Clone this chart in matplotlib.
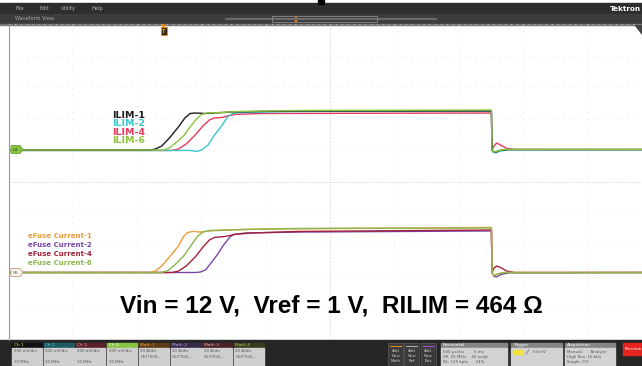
import numpy as np
import matplotlib.pyplot as plt
from matplotlib.patches import Rectangle, Polygon

# --- captured waveforms (time in ms, trigger at 0) ---
# ILIM pin voltage, mV (Ch4, 200 mV/div)
ilim1_t = [-1.20, -0.10, -0.06, -0.01, 0.05, 0.12, 0.17, 0.21, 0.25, 0.33, 0.40, 0.52, 0.75, 1.06, 2.55, 2.554, 2.565, 2.585, 2.61, 2.69, 3.72]
ilim1_mv = [0, 0, 6, 25, 76, 146, 203, 231, 234, 231, 234, 240, 244, 247, 247, 0, -9, -13, -3, 3, 3]

ilim2_t = [-1.20, 0.21, 0.26, 0.30, 0.35, 0.40, 0.46, 0.50, 0.54, 0.60, 1.06, 2.55, 2.554, 2.56, 2.585, 2.61, 2.67, 3.72]
ilim2_mv = [-3, -3, -9, 0, 32, 95, 158, 209, 231, 237, 244, 247, 0, -13, -19, -9, 0, 1]

ilim4_t = [-1.20, 0.07, 0.12, 0.18, 0.25, 0.31, 0.36, 0.40, 0.46, 0.50, 0.56, 0.75, 2.55, 2.554, 2.57, 2.59, 2.62, 2.67, 2.73, 3.72]
ilim4_mv = [-3, -3, 6, 38, 95, 152, 190, 203, 206, 215, 225, 231, 234, 0, 25, 44, 32, 9, 3, 3]

ilim6_t = [-1.20, 0.0, 0.04, 0.09, 0.16, 0.21, 0.26, 0.30, 0.34, 0.44, 0.60, 1.06, 2.55, 2.554, 2.57, 2.60, 2.65, 3.72]
ilim6_mv = [0, 0, 9, 38, 89, 146, 196, 225, 234, 237, 244, 250, 253, 0, -13, -6, 3, 3]

# eFuse output current, A (Math, 20 A/div)
cur1_t = [-1.20, -0.10, -0.06, -0.01, 0.05, 0.12, 0.16, 0.19, 0.23, 0.29, 0.36, 0.52, 0.75, 2.55, 2.554, 2.57, 2.60, 2.65, 3.72]
cur1_a = [0, 0, 0.9, 4.1, 9.8, 16.8, 22.8, 25.3, 26.0, 25.6, 26.3, 26.9, 27.5, 28.5, 0, -2.2, -0.9, 0, 0]

cur2_t = [-1.20, 0.25, 0.29, 0.33, 0.36, 0.42, 0.47, 0.52, 0.55, 0.64, 1.06, 2.55, 2.554, 2.57, 2.59, 2.62, 2.69, 3.72]
cur2_a = [0, 0, 0.3, 1.6, 4.7, 11.1, 17.4, 22.5, 24.1, 25.0, 25.6, 26.3, 0, -2.5, -2.8, -1.3, -0.2, 0]

cur4_t = [-1.20, 0.07, 0.12, 0.18, 0.25, 0.31, 0.36, 0.40, 0.48, 0.56, 0.68, 1.06, 2.55, 2.554, 2.57, 2.59, 2.62, 2.67, 2.73, 3.72]
cur4_a = [0, 0, 0.9, 4.1, 9.8, 16.1, 20.6, 22.2, 22.8, 24.1, 25.0, 26.0, 26.9, 0, 2.8, 4.1, 3.2, 0.9, 0, 0]

cur6_t = [-1.20, -0.01, 0.04, 0.09, 0.16, 0.22, 0.27, 0.31, 0.36, 0.60, 1.06, 2.55, 2.554, 2.57, 2.60, 2.65, 3.72]
cur6_a = [0, 0, 1.3, 4.7, 10.4, 17.4, 23.1, 25.6, 26.6, 27.2, 27.9, 28.2, 0, -1.9, -0.8, 0, 0]

ilim_labels = ['ILIM-1', 'ILIM-2', 'ILIM-4', 'ILIM-6']
cur_labels = ['eFuse Current-1', 'eFuse Current-2', 'eFuse Current-4', 'eFuse Current-6']
title = 'Vin = 12 V,  Vref = 1 V,  RILIM = 464 Ω'

ilim_colors = ['#1c1c1c', '#3cc6d0', '#e53a5c', '#8cc43e']
cur_colors = ['#ec9a3a', '#7b45a8', '#a3223a', '#8cb64a']

# scope settings
MV_PER_DIV = 200.0
A_PER_DIV = 20.0
MS_PER_DIV = 0.5
ILIM_OFS = 1.013     # divisions above screen centre
CUR_OFS = -2.864
PX_PER_MS = 128.8
TRIG_PX = 163.0

W, H = 642, 366
fig = plt.figure(figsize=(6.42, 3.66), dpi=100)
fig.patch.set_facecolor('white')

# --- UI chrome, drawn in pixel coordinates ---
ui = fig.add_axes([0, 0, 1, 1], zorder=0)
ui.set_xlim(0, W)
ui.set_ylim(H, 0)
ui.axis('off')

ui.add_patch(Rectangle((0, 3), W, 11, color='#2d2d2d'))
ui.add_patch(Rectangle((0, 14), W, 10, color='#3c3c3c'))
ui.add_patch(Rectangle((0, 24), W, 0.8, color='#777777'))
for name, x in zip(['File', 'Edit', 'Utility', 'Help'], [16, 39, 61, 91]):
    ui.text(x, 8.8, name, color='#bbbbbb', fontsize=3.6, va='center')
ui.text(641, 8.8, 'Tektron', color='white', fontsize=5.2, fontweight='bold',
        va='center', ha='right')
ui.add_patch(Rectangle((318, 0), 6, 4, color='black'))
ui.text(15, 19, 'Waveform View', color='#aaaaaa', fontsize=3.6, va='center')
ui.plot([225, 437], [19, 19], color='#6a6a6a', lw=1.6, solid_capstyle='butt')
ui.plot([272, 272, 377, 377], [16, 22, 22, 16], color='#888888', lw=0.6)
ui.plot([272, 377], [16, 16], color='#888888', lw=0.6)
ui.add_patch(Rectangle((293.5, 15.5), 3.5, 6.5, facecolor='#e08a1e', edgecolor='#5a3000', lw=0.4))

# bottom control bar
ui.add_patch(Rectangle((0, 340), W, 26, color='#262626'))
chans = [('Ch 1', '#111111', '#e8d24a', ['200 mV/div', '', '10 MHz']),
         ('Ch 2', '#1f5a63', '#59d2dc', ['200 mV/div', '', '10 MHz']),
         ('Ch 3', '#5a2329', '#f0a0a8', ['200 mV/div', '', '10 MHz']),
         ('Ch 4', '#86c440', '#ffffff', ['200 mV/div', '', '10 MHz']),
         ('Math 1', '#5c3a14', '#f0a040', ['20 A/div', 'Ch1*550...']),
         ('Math 2', '#352a4a', '#c8a8f0', ['20 A/div', 'Ch2*550...']),
         ('Math 3', '#4a2226', '#f0b0b0', ['20 A/div', 'Ch3*550...']),
         ('Math 4', '#3a3a1e', '#a8c860', ['20 A/div', 'Ch4*550...'])]
for i, (name, hc, tc, body) in enumerate(chans):
    x0 = 12 + i * 31.7
    ui.add_patch(Rectangle((x0, 342.5), 30, 5.5, color=hc))
    ui.add_patch(Rectangle((x0, 348), 30, 18, color='#cfcfcf'))
    ui.text(x0 + 1.5, 345.3, name, color=tc, fontsize=3.2, va='center')
    for j, line in enumerate(body):
        ui.text(x0 + 1.5, 351.5 + j * 5.2, line, color='#555555', fontsize=2.9, va='center')

for k, (stripe, words) in enumerate(zip(['#d98a2a', '#aaaaaa', '#9a55c8'], ['Math', 'Ref', 'Bus'])):
    x0 = 388 + k * 16.3
    ui.add_patch(Rectangle((x0, 342.5), 15, 23.5, facecolor='#3a3a3a', edgecolor='#5a5a5a', lw=0.5))
    ui.plot([x0 + 2, x0 + 13], [345.5, 345.5], color=stripe, lw=0.8)
    for j, wd in enumerate(['Add', 'New', words]):
        ui.text(x0 + 7.5, 350.5 + j * 5.3, wd, color='#cccccc', fontsize=2.9, ha='center', va='center')

panels = [('Horizontal', 441, 66, ['500 µs/div        5 ms', 'SR: 25 MS/s    40 ns/pt', 'RL: 125 kpts      24%']),
          ('Trigger', 511, 51, ['', '', '']),
          ('Acquisition', 565, 50, ['Manual,      Analyze', 'High Res: 16 bits', 'Single: 0/1'])]
for name, x0, w, body in panels:
    ui.add_patch(Rectangle((x0, 342.5), w, 5.5, color='#858585'))
    ui.add_patch(Rectangle((x0, 348), w, 18, color='#d2d2d2'))
    ui.text(x0 + 2, 345.3, name, color='white', fontsize=3.2, va='center')
    for j, line in enumerate(body):
        ui.text(x0 + 2, 351.5 + j * 5.2, line, color='#555555', fontsize=2.9, va='center')
ui.add_patch(Rectangle((513, 349.5), 9, 4.5, color='#f2e436'))
ui.plot([526, 529], [354, 350], color='#777777', lw=0.6)
ui.text(533, 351.8, '64 mV', color='#555555', fontsize=2.9, va='center')
ui.add_patch(Rectangle((623, 342.5), 19, 12.5, color='#e52420'))
ui.text(625, 348.8, 'Preview', color='white', fontsize=3.2, va='center')

# --- waveform area ---
t_left = (9 - TRIG_PX) / PX_PER_MS
t_right = (W - TRIG_PX) / PX_PER_MS
t_centre = (330 - TRIG_PX) / PX_PER_MS

ax = fig.add_axes([9 / W, (H - 340) / H, (W - 9) / W, 316 / H], zorder=1)
ax.set_facecolor('none')
ax.set_xlim(t_left, t_right)
ax.set_ylim(-5, 5)
for s in ['top', 'right', 'bottom']:
    ax.spines[s].set_visible(False)
ax.spines['left'].set_color('#9a9a9a')
ax.spines['left'].set_linewidth(0.8)
ax.set_xticks([])
ax.set_yticks([])

# graticule
for k in range(-5, 6):
    tx = t_centre + k * MS_PER_DIV
    centre = (k == 0)
    ax.axvline(tx, color='#c4c4c4' if centre else '#dedede', lw=0.6,
               ls=(0, (1, 2)) if centre else (0, (1, 6)), zorder=0)
    ax.axhline(k, color='#c4c4c4' if k == 0 else '#dedede', lw=0.6,
               ls=(0, (1, 2)) if k == 0 else (0, (1, 6)), zorder=0)

ilim_series = [(ilim1_t, ilim1_mv), (ilim2_t, ilim2_mv), (ilim4_t, ilim4_mv), (ilim6_t, ilim6_mv)]
cur_series = [(cur1_t, cur1_a), (cur2_t, cur2_a), (cur4_t, cur4_a), (cur6_t, cur6_a)]

# draw order: red and cyan underneath, black/green on top
for idx in [2, 1, 0, 3]:
    t, v = ilim_series[idx]
    ax.plot(t, ILIM_OFS + np.array(v) / MV_PER_DIV, color=ilim_colors[idx], lw=1.0, zorder=2)
for idx in [1, 2, 0, 3]:
    t, v = cur_series[idx]
    ax.plot(t, CUR_OFS + np.array(v) / A_PER_DIV, color=cur_colors[idx], lw=1.0, zorder=2)

# --- overlay: labels, channel badges, trigger marker ---
ov = fig.add_axes([0, 0, 1, 1], zorder=3)
ov.set_facecolor('none')
ov.set_xlim(0, W)
ov.set_ylim(H, 0)
ov.axis('off')

for i, (lab, c) in enumerate(zip(ilim_labels, ilim_colors)):
    ov.text(112.5, 115.5 + i * 8.4, lab, color=c, fontsize=6.8, fontweight='bold', va='center')
for i, (lab, c) in enumerate(zip(cur_labels, cur_colors)):
    ov.text(28, 236 + i * 9.1, lab, color=c, fontsize=5.0, fontweight='bold', va='center')

ov.text(331, 306, title, fontsize=17.6, fontweight='bold', ha='center', va='center',
        family=['Liberation Sans', 'DejaVu Sans'])

ov.add_patch(Polygon([[11, 145.5], [20, 145.5], [23, 149.5], [20, 153.5], [11, 153.5]],
                     closed=True, facecolor='#86c440', edgecolor='#5e9a2a', lw=0.5))
ov.text(15.5, 149.6, 'C4', fontsize=2.8, color='#1f3d0a', ha='center', va='center')
ov.add_patch(Polygon([[11, 268.5], [20, 268.5], [23, 272.5], [20, 276.5], [11, 276.5]],
                     closed=True, facecolor='#f8f8f0', edgecolor='#c89a70', lw=0.6))
ov.text(15.5, 272.6, 'M4', fontsize=2.8, color='#666666', ha='center', va='center')

ov.add_patch(Polygon([[161.5, 25], [165.5, 25], [163.5, 27]], closed=True, color='#e8901e'))
ov.add_patch(Rectangle((160.5, 27), 6, 8, facecolor='#3a2a10', edgecolor='#e8901e', lw=0.6))
ov.text(163.5, 31.2, 'T', fontsize=3.6, color='#f0a030', fontweight='bold', ha='center', va='center')
ov.add_patch(Polygon([[635, 25], [642, 25], [642, 34]], closed=True, color='#444444'))

fig.savefig('out.png', dpi=100, facecolor='white')
